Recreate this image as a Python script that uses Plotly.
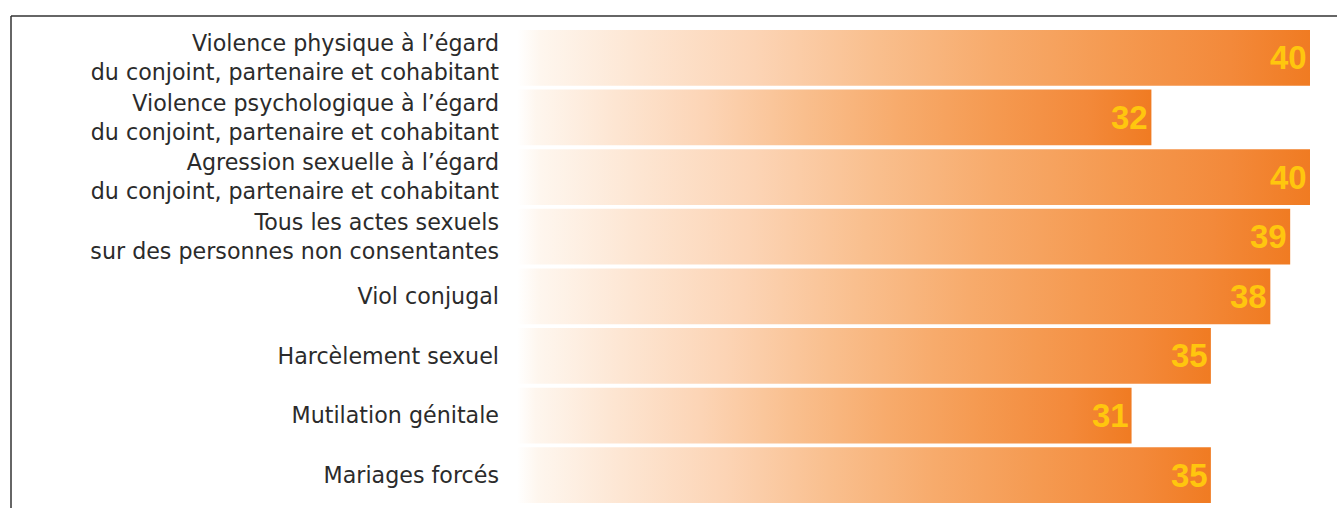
import plotly.graph_objects as go

categories = [
    "Violence physique à l’égard<br>du conjoint, partenaire et cohabitant",
    "Violence psychologique à l’égard<br>du conjoint, partenaire et cohabitant",
    "Agression sexuelle à l’égard<br>du conjoint, partenaire et cohabitant",
    "Tous les actes sexuels<br>sur des personnes non consentantes",
    "Viol conjugal",
    "Harcèlement sexuel",
    "Mutilation génitale",
    "Mariages forcés",
]
values = [40, 32, 40, 39, 38, 35, 31, 35]

BAR_W = 0.933
gradient = [
    [0.0, "#ffffff"], [0.03, "#fef6ee"], [0.15, "#fde6d3"], [0.3, "#fcd4b5"],
    [0.45, "#f9bf8e"], [0.6, "#f7ab6c"], [0.75, "#f59a51"], [0.9, "#f3893a"],
    [1.0, "#f07b22"],
]

fig = go.Figure()
idx = list(range(len(categories)))
for i, v in zip(idx, values):
    lo, hi = i - BAR_W / 2, i + BAR_W / 2
    fig.add_trace(go.Scatter(
        x=[0, v, v, 0, 0], y=[lo, lo, hi, hi, lo],
        mode="lines", fill="toself",
        line=dict(width=0, color="rgba(0,0,0,0)"),
        fillgradient=dict(type="horizontal", colorscale=gradient),
        hoverinfo="skip", showlegend=False,
    ))

annotations = [
    dict(x=v, y=i, xref="x", yref="y", text=str(v), showarrow=False,
         xanchor="right", yanchor="middle", xshift=-1, yshift=0,
         font=dict(family="Liberation Sans", size=33, color="#ffc60e", weight="bold"))
    for i, v in zip(idx, values)
]

plot_left, plot_right = 517, 1337
px_per_unit = (1310 - 517) / 40
x_max = (plot_right - plot_left) / px_per_unit
top, bottom = 28, 505

fig.update_layout(
    width=1337, height=508,
    margin=dict(l=plot_left, r=0, t=top, b=508 - bottom),
    paper_bgcolor="white", plot_bgcolor="white",
    xaxis=dict(range=[0, x_max], visible=False, fixedrange=True),
    yaxis=dict(
        range=[len(categories) - 0.5, -0.5], tickvals=idx, ticktext=categories,
        showgrid=False, zeroline=False, showline=False, ticks="",
        ticklabelstandoff=17,
        tickfont=dict(family="DejaVu Sans", size=22.2, color="#2b2b2b"),
    ),
    annotations=annotations,
    shapes=[
        dict(type="line", xref="paper", yref="paper",
             x0=(11 - plot_left) / (plot_right - plot_left), x1=1,
             y0=(bottom - 16) / (bottom - top), y1=(bottom - 16) / (bottom - top),
             line=dict(color="#333333", width=1.5)),
        dict(type="line", xref="paper", yref="paper",
             x0=(11 - plot_left) / (plot_right - plot_left),
             x1=(11 - plot_left) / (plot_right - plot_left),
             y0=(bottom - 16) / (bottom - top), y1=(bottom - 510) / (bottom - top),
             line=dict(color="#333333", width=1.5)),
    ],
)

fig.write_html("out.html", config={"displayModeBar": False},
               post_script="document.body.style.margin='0';")
